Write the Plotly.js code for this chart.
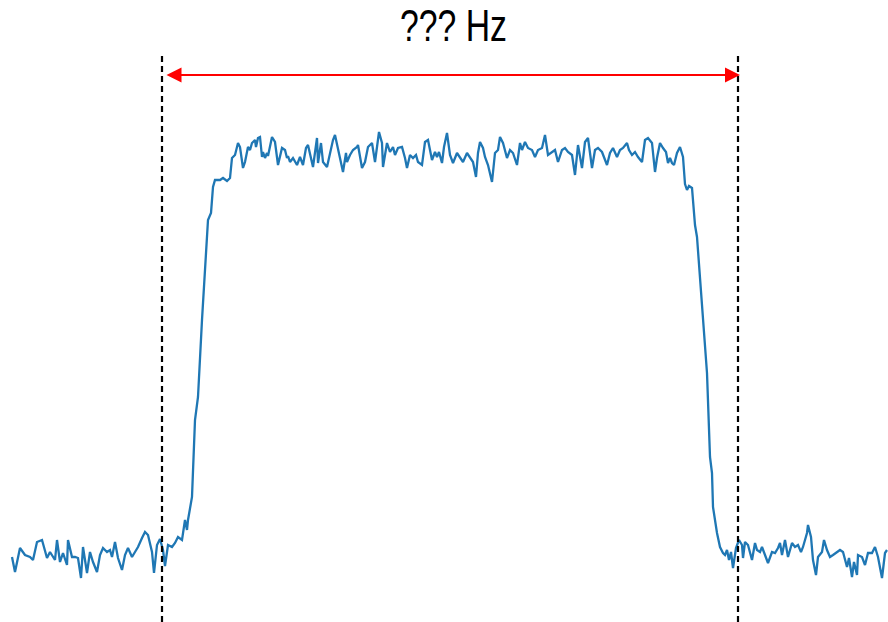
<!DOCTYPE html>
<html>
<head>
<meta charset="utf-8">
<script src="https://cdn.plot.ly/plotly-3.0.1.min.js"></script>
<style>html,body{margin:0;padding:0;background:#fff;}#chart{width:888px;height:622px;}</style>
</head>
<body>
<div id="chart"></div>
<script>
// Frequency positions (arbitrary units)
const freq = [12,15,20,23,25,30,33,37,42,47,50,55,57,60,63,67,68,72,75,78,81,83,87,90,93,97,100,103,107,110,112,115,118,122,125,128,132,135,138,142,145,148,152,154,157,160,163,165,168,172,175,178,182,185,187,188,190,192,195,198,202,204,208,211,213,215,220,223,227,230,232,235,238,240,243,245,248,250,252,255,256,258,260,262,263,265,267,268,272,275,278,282,285,287,288,290,293,297,300,303,306,308,312,313,317,318,321,323,327,330,333,335,338,341,343,346,347,350,353,357,358,362,365,368,372,375,379,382,383,387,390,393,395,398,402,405,407,410,413,416,418,422,425,428,432,435,437,439,442,444,447,450,453,457,460,463,467,470,473,476,478,480,483,485,488,492,495,498,500,503,507,510,513,517,520,522,525,528,532,535,538,542,545,548,552,555,558,562,565,568,572,575,578,582,585,588,592,595,598,602,607,610,613,617,620,623,627,629,632,635,638,642,645,648,652,655,657,660,663,666,668,670,672,674,677,680,683,685,687,689,692,695,697,702,707,710,712,713,717,720,723,725,727,729,731,733,736,739,742,743,745,748,752,755,757,760,762,765,768,772,775,778,780,782,785,788,792,795,798,801,803,807,808,811,813,816,818,822,824,827,830,833,837,840,843,847,849,852,854,857,858,862,865,868,872,875,878,880,882,885,887];
// Signal level (arbitrary units)
const level = [43,28,52,48,45,43,40,58,60,42,48,40,60,38,47,35,60,43,43,42,22,53,27,48,38,28,45,52,48,50,43,58,42,30,45,52,43,48,53,62,68,65,48,27,55,61,50,34,55,53,57,63,60,80,70,80,90,103,180,203,280,313,380,387,413,420,420,422,419,422,442,445,457,453,432,438,453,450,457,460,453,462,463,443,448,442,447,444,463,458,435,452,450,442,444,438,442,435,443,435,452,455,438,433,462,437,457,438,433,447,460,465,452,440,428,447,438,445,450,453,455,432,438,453,457,438,468,457,433,457,448,453,445,452,453,442,432,445,442,445,438,435,458,460,440,448,443,448,437,453,467,445,437,447,442,438,447,442,438,423,447,458,452,443,435,418,447,450,463,457,442,450,447,435,457,450,458,452,450,443,450,452,465,445,448,450,438,450,452,448,445,425,455,432,458,462,432,450,452,448,435,447,452,443,450,452,457,450,445,448,443,438,460,462,457,428,442,457,452,448,437,442,437,435,447,453,443,416,410,414,412,375,363,293,227,143,127,93,67,53,47,45,50,40,48,32,52,60,55,42,58,55,40,57,50,48,53,45,37,48,47,52,57,45,60,43,57,53,55,48,53,67,75,63,40,25,43,48,60,50,43,45,48,50,48,33,42,23,38,25,45,43,35,47,47,53,43,33,22,47,50];
// Band edges and title
const bandEdges = [162, 738];
const arrowEnds = [165, 740];
const titleText = "??? Hz";

const traces = [{
  x: freq, y: level, type: 'scatter', mode: 'lines',
  line: {color: '#1f77b4', width: 2.3},
  hoverinfo: 'skip', showlegend: false
}];

const shapes = bandEdges.map(xv => ({
  type: 'line', xref: 'x', yref: 'y',
  x0: xv, x1: xv, y0: -22, y1: 548,
  line: {color: '#000', width: 2.2, dash: '6px,4px'}
}));

const layout = {
  width: 888, height: 622,
  margin: {l: 0, r: 0, t: 0, b: 0},
  paper_bgcolor: '#fff', plot_bgcolor: '#fff',
  xaxis: {range: [0, 888], visible: false, fixedrange: true},
  yaxis: {range: [-22, 600], visible: false, fixedrange: true},
  showlegend: false,
  shapes: shapes,
  title: {
    text: titleText,
    font: {family: 'Liberation Sans, Arial, sans-serif', size: 45, color: '#000'},
    x: 453.5 / 888, xref: 'container', xanchor: 'center',
    y: 1 - 25 / 622, yref: 'container', yanchor: 'middle'
  },
  annotations: [{
    x: arrowEnds[1], y: 525, ax: arrowEnds[0], ay: 525,
    xref: 'x', yref: 'y', axref: 'x', ayref: 'y',
    text: '', showarrow: true,
    arrowhead: 2, startarrowhead: 2, arrowside: 'end+start',
    arrowsize: 1.5, startarrowsize: 1.5, arrowwidth: 2,
    arrowcolor: '#ff0000', standoff: 0, startstandoff: 0
  }]
};

function condenseTitle() {
  const t = document.querySelector('#chart .gtitle');
  if (t) {
    t.setAttribute('textLength', '107');
    t.setAttribute('lengthAdjust', 'spacingAndGlyphs');
  }
}

Plotly.newPlot('chart', traces, layout, {staticPlot: true, displayModeBar: false}).then(condenseTitle);
</script>
</body>
</html>
